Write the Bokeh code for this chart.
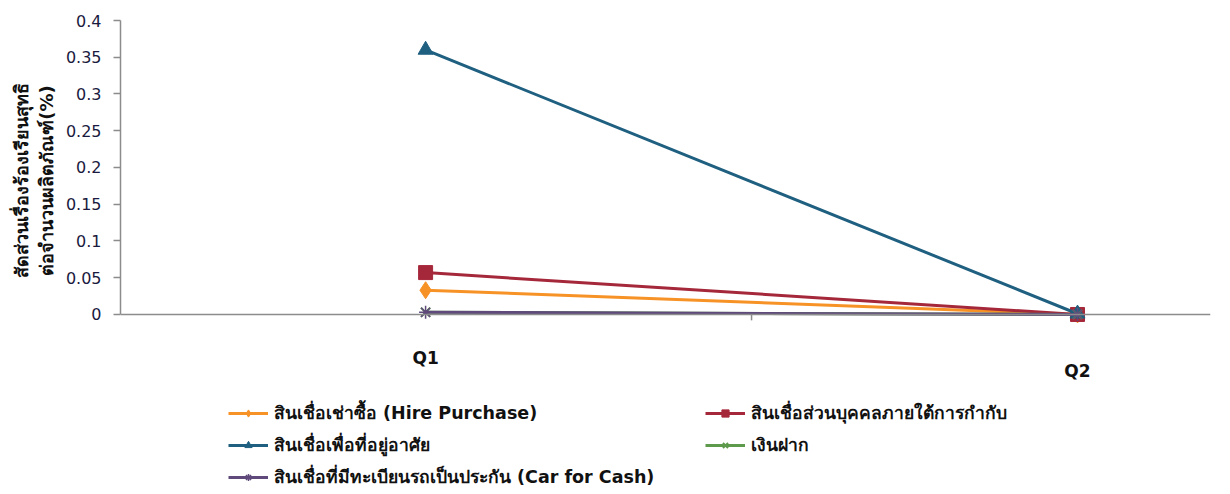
from bokeh.plotting import figure
from bokeh.models import Range1d, FixedTicker, Label, Legend, LegendItem, Span
from bokeh.layouts import column
from bokeh.embed import file_html
from bokeh.resources import INLINE

quarters = ["Q1", "Q2"]
xpos = [0, 1]
hire_purchase = [0.033, 0.0]
personal_loan = [0.057, 0.0]
housing = [0.36, 0.001]
deposit = [0.003, 0.0]
car_for_cash = [0.003, 0.0]

names = [
    "สินเชื่อเช่าซื้อ (Hire Purchase)",
    "สินเชื่อส่วนบุคคลภายใต้การกำกับ",
    "สินเชื่อเพื่อที่อยู่อาศัย",
    "เงินฝาก",
    "สินเชื่อที่มีทะเบียนรถเป็นประกัน (Car for Cash)",
]
y_ticks = [0, 0.05, 0.1, 0.15, 0.2, 0.25, 0.3, 0.35, 0.4]
y_title = "สัดส่วนเรื่องร้องเรียนสุทธิ\nต่อจำนวนผลิตภัณฑ์(%)"

FONT = "DejaVu Sans"
AXIS_GRAY = "#8c8c8c"

c_orange = "#F79226"
c_red = "#A5283A"
c_blue = "#1F5F80"
c_green = "#5E9A4C"
c_purple = "#5F4A7B"

styles = [
    dict(color=c_orange, marker="diamond", size=17, lw=0),
    dict(color=c_red, marker="square", size=14, lw=0),
    dict(color=c_blue, marker="triangle", size=15, lw=0),
    dict(color=c_green, marker="x", size=13, lw=2),
    dict(color=c_purple, marker="asterisk", size=13, lw=1.5),
]
series = [hire_purchase, personal_loan, housing, deposit, car_for_cash]

xr = Range1d(-0.468, 1.204)

# ---- main plot -------------------------------------------------------
p = figure(width=1230, height=340, output_backend="svg", toolbar_location=None,
           x_range=xr, y_range=Range1d(-0.0354, 0.4),
           min_border_left=120, min_border_right=20, min_border_top=20,
           min_border_bottom=0)
p.outline_line_color = None
p.xgrid.visible = False
p.ygrid.visible = False
p.xaxis.visible = False

p.yaxis.bounds = (0, 0.4)
p.yaxis.ticker = FixedTicker(ticks=y_ticks)
p.yaxis.major_label_overrides = {0: "0", 0.4: "0.4", 0.1: "0.1", 0.2: "0.2", 0.3: "0.3"}
p.yaxis.axis_line_color = AXIS_GRAY
p.yaxis.axis_line_width = 1.5
p.yaxis.major_tick_line_color = AXIS_GRAY
p.yaxis.major_tick_line_width = 1.5
p.yaxis.major_tick_out = 7
p.yaxis.major_tick_in = 0
p.yaxis.minor_tick_line_color = None
p.yaxis.major_label_text_font = FONT
p.yaxis.major_label_text_font_size = "16px"
p.yaxis.major_label_text_color = "#1a1a40"
p.yaxis.major_label_standoff = 12
p.yaxis.axis_label = y_title
p.yaxis.axis_label_text_font = FONT
p.yaxis.axis_label_text_font_style = "bold"
p.yaxis.axis_label_text_font_size = "18px"
p.yaxis.axis_label_text_color = "#111111"
p.yaxis.axis_label_standoff = 6

# x axis line and the tick between the categories
p.add_layout(Span(location=0, dimension="width", line_color=AXIS_GRAY, line_width=1.5))
mid = sum(xpos) / len(xpos)
p.segment(x0=[mid], y0=[0], x1=[mid], y1=[-0.008], line_color=AXIS_GRAY, line_width=1.5)

for ys, st in zip(series, styles):
    p.line(xpos, ys, line_color=st["color"], line_width=3)
    if st["lw"]:
        p.scatter(xpos, ys, marker=st["marker"], size=st["size"],
                  line_color=st["color"], line_width=st["lw"])
    else:
        p.scatter(xpos, ys, marker=st["marker"], size=st["size"], color=st["color"])

# ---- lower strip: category labels and legend -----------------------
b = figure(width=1230, height=154, output_backend="svg", toolbar_location=None,
           x_range=xr, y_range=Range1d(0, 154),
           min_border_left=120, min_border_right=20, min_border_top=0,
           min_border_bottom=0)
b.outline_line_color = None
b.xgrid.visible = False
b.ygrid.visible = False
b.xaxis.visible = False
b.yaxis.visible = False

q_y = [137, 124]  # staggered as in the reference (pixels from strip bottom)
for xi, q, yy in zip(xpos, quarters, q_y):
    b.add_layout(Label(x=xi, y=yy, text=q, text_align="center", text_baseline="middle",
                       text_font=FONT, text_font_style="bold", text_font_size="17px",
                       text_color="#111111"))

# legend proxies (same styles, no visible data) living in the lower strip
nan = float("nan")
proxies = []
for st in styles:
    rl = b.line([nan], [nan], line_color=st["color"], line_width=3)
    if st["lw"]:
        rm = b.scatter([nan], [nan], marker=st["marker"], size=st["size"] * 0.9,
                       line_color=st["color"], line_width=st["lw"])
    else:
        rm = b.scatter([nan], [nan], marker=st["marker"], size=st["size"] * 0.9,
                       color=st["color"])
    proxies.append([rl, rm])

def make_legend(idx, x, y):
    items = [LegendItem(label=names[i], renderers=proxies[i]) for i in idx]
    lg = Legend(items=items, location=(x, y), orientation="vertical",
                label_text_font=FONT, label_text_font_style="bold",
                label_text_font_size="17.5px", label_text_color="#111111",
                glyph_width=40, glyph_height=18, label_height=18, spacing=4,
                label_standoff=6, padding=0, margin=0,
                border_line_alpha=0, background_fill_alpha=0)
    b.add_layout(lg, "center")

make_legend([0, 2, 4], 108, 3)
make_legend([1, 3], 585, 35)

layout = column(p, b, spacing=0)
open("out.html", "w").write(file_html(layout, INLINE))
